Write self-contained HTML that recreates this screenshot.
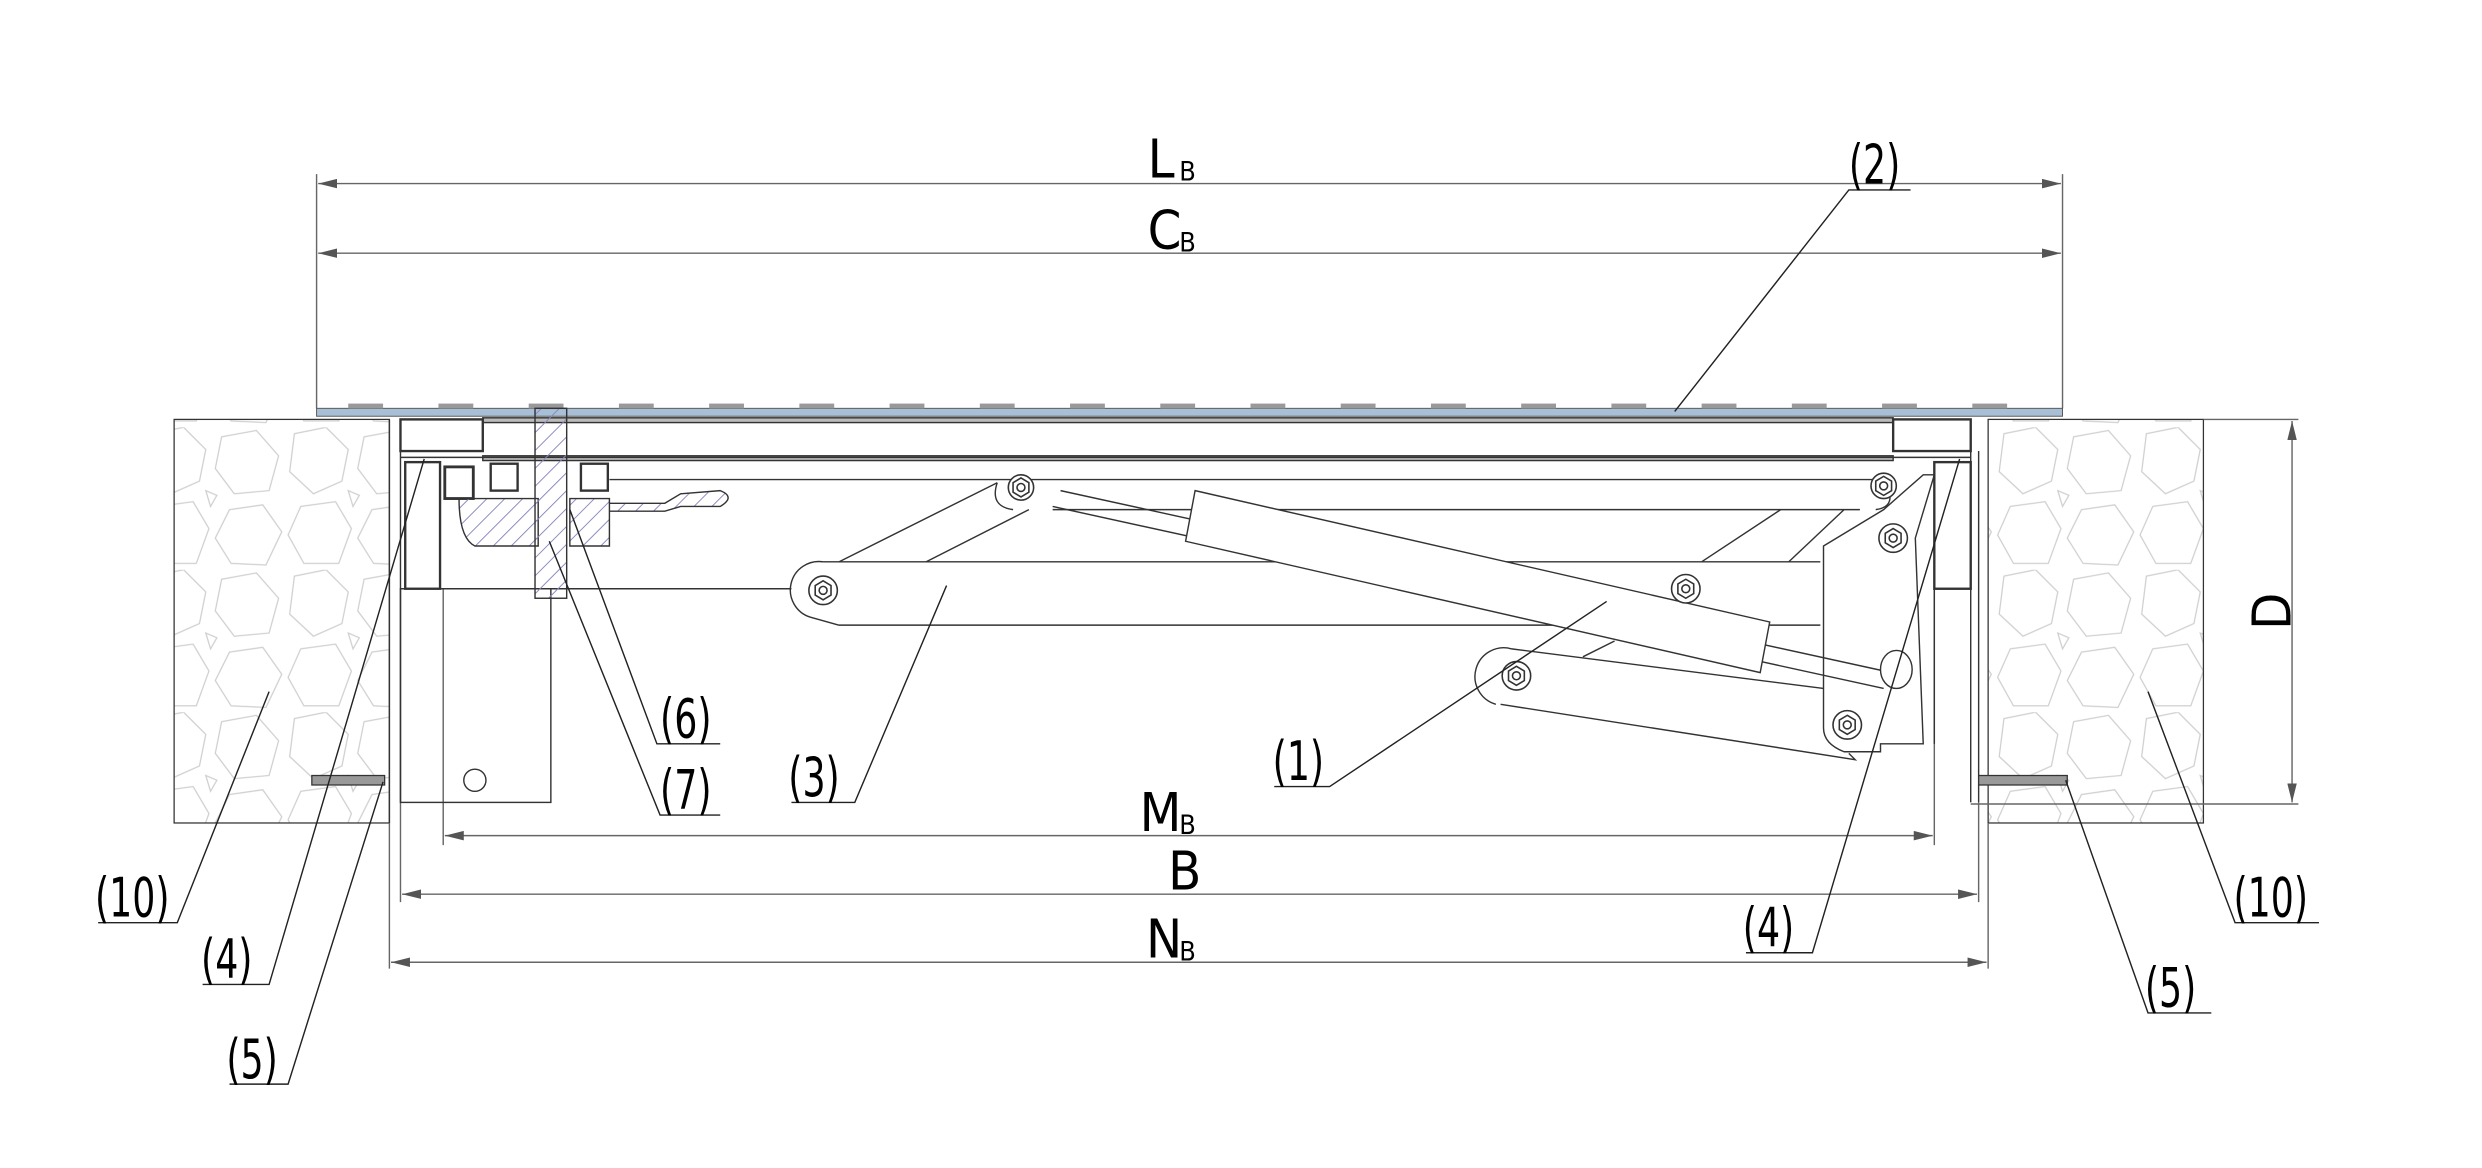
<!DOCTYPE html>
<html><head><meta charset="utf-8"><style>
html,body{margin:0;padding:0;background:#fff;}
svg{display:block;}
text{font-family:"DejaVu Sans Condensed","Liberation Sans Narrow","Liberation Sans",sans-serif;fill:#000;}
</style></head><body>
<svg width="2482" height="1168" viewBox="0 0 1568 738" preserveAspectRatio="none" xmlns="http://www.w3.org/2000/svg">
<defs>
<pattern id="stone" width="90" height="90" patternUnits="userSpaceOnUse">
<g fill="none" stroke="#cfcfcf" stroke-width="0.8">
<polygon points="6,4 26,0 40,14 36,34 18,42 3,28"/>
<polygon points="50,6 72,2 86,18 80,40 58,42 46,26"/>
<polygon points="10,50 32,47 42,64 34,86 12,86 2,68"/>
<polygon points="55,52 76,49 88,66 78,87 56,86 46,70"/>
<polygon points="40,40 47,43 43,50"/>
</g>
</pattern>
<pattern id="hatch" width="8" height="8" patternUnits="userSpaceOnUse" patternTransform="rotate(45)">
<line x1="0" y1="0" x2="0" y2="8" stroke="#8888c0" stroke-width="1.2"/>
</pattern>
<marker id="ar" markerWidth="12" markerHeight="6" refX="12" refY="3" orient="auto" markerUnits="userSpaceOnUse">
<polygon points="0,0 12,3 0,6" fill="#555"/>
</marker>
<marker id="al" markerWidth="12" markerHeight="6" refX="0" refY="3" orient="auto" markerUnits="userSpaceOnUse">
<polygon points="12,0 0,3 12,6" fill="#555"/>
</marker>
</defs>

<rect x="110" y="265" width="136" height="255" fill="url(#stone)" stroke="#333" stroke-width="0.8"/>
<rect x="1256" y="265" width="136" height="255" fill="url(#stone)" stroke="#333" stroke-width="0.8"/>

<g stroke="#666" stroke-width="0.9" fill="none">
<line x1="200" y1="110" x2="200" y2="258"/>
<line x1="1303" y1="110" x2="1303" y2="258"/>
<line x1="201" y1="116" x2="1302" y2="116" marker-start="url(#al)" marker-end="url(#ar)"/>
<line x1="201" y1="160" x2="1302" y2="160" marker-start="url(#al)" marker-end="url(#ar)"/>
<line x1="281" y1="528" x2="1221" y2="528" marker-start="url(#al)" marker-end="url(#ar)"/>
<line x1="254" y1="565" x2="1249" y2="565" marker-start="url(#al)" marker-end="url(#ar)"/>
<line x1="247" y1="608" x2="1255" y2="608" marker-start="url(#al)" marker-end="url(#ar)"/>
<line x1="280" y1="372" x2="280" y2="534"/>
<line x1="1222" y1="372" x2="1222" y2="534"/>
<line x1="253" y1="507" x2="253" y2="570"/>
<line x1="1250" y1="507" x2="1250" y2="570"/>
<line x1="246" y1="520" x2="246" y2="612"/>
<line x1="1256" y1="520" x2="1256" y2="612"/>
<line x1="1392" y1="265" x2="1452" y2="265"/>
<line x1="1245" y1="508" x2="1452" y2="508"/>
<line x1="1448" y1="266" x2="1448" y2="507" marker-start="url(#al)" marker-end="url(#ar)"/>
</g>

<rect x="200" y="258" width="1103" height="5" fill="#a9bfd6" stroke="#555" stroke-width="0.6"/>
<g fill="#999">
<rect x="220" y="255" width="22" height="3"/><rect x="277" y="255" width="22" height="3"/><rect x="334" y="255" width="22" height="3"/><rect x="391" y="255" width="22" height="3"/><rect x="448" y="255" width="22" height="3"/><rect x="505" y="255" width="22" height="3"/><rect x="562" y="255" width="22" height="3"/><rect x="619" y="255" width="22" height="3"/><rect x="676" y="255" width="22" height="3"/><rect x="733" y="255" width="22" height="3"/><rect x="790" y="255" width="22" height="3"/><rect x="847" y="255" width="22" height="3"/><rect x="904" y="255" width="22" height="3"/><rect x="961" y="255" width="22" height="3"/><rect x="1018" y="255" width="22" height="3"/><rect x="1075" y="255" width="22" height="3"/><rect x="1132" y="255" width="22" height="3"/><rect x="1189" y="255" width="22" height="3"/><rect x="1246" y="255" width="22" height="3"/>
</g>

<g stroke="#333" stroke-width="0.9" fill="none">
<rect x="305" y="264" width="891" height="3" fill="#bbb"/>
<rect x="305" y="288" width="891" height="3" fill="#bbb"/>
<rect x="253" y="265" width="52" height="20" stroke-width="1.5"/>
<rect x="1196" y="265" width="49" height="20" stroke-width="1.5"/>
<line x1="253" y1="289" x2="1245" y2="289"/>
<line x1="385" y1="303" x2="1190" y2="303"/>
<line x1="246" y1="265" x2="246" y2="520"/>
<line x1="253" y1="285" x2="253" y2="507"/>
<rect x="256" y="292" width="22" height="80" stroke-width="1.5"/>
<line x1="253" y1="372" x2="500" y2="372"/>
<rect x="253" y="372" width="95" height="135"/>
<circle cx="300" cy="493" r="7"/>
<rect x="281" y="295" width="18" height="20" stroke-width="1.8"/>
<rect x="310" y="293" width="17" height="17" stroke-width="1.5"/>
<rect x="367" y="293" width="17" height="17" stroke-width="1.5"/>
<path d="M290,315 L340,315 L340,345 L300,345 Q290,340 290,315Z M360,315 L385,315 L385,345 L360,345Z" fill="url(#hatch)"/>
<rect x="338" y="258" width="20" height="120" fill="url(#hatch)"/>
<path d="M385,318 L420,318 L430,312 L455,310 Q465,314 455,320 L430,320 L420,323 L385,323" fill="url(#hatch)"/>
<rect x="1222" y="292" width="23" height="80" stroke-width="1.5"/>
<line x1="1245" y1="285" x2="1245" y2="507"/>
<line x1="1250" y1="285" x2="1250" y2="507"/>
<line x1="1222" y1="372" x2="1222" y2="470"/>
<path d="M520,355 L1150,355 M530,395 L1150,395 M520,355 A18,18 0 0 0 512,390 L530,395"/>
<line x1="530" y1="355" x2="630" y2="305"/>
<line x1="585" y1="355" x2="650" y2="322"/>
<line x1="1075" y1="355" x2="1125" y2="322"/>
<line x1="1130" y1="355" x2="1165" y2="322"/>
<line x1="665" y1="322" x2="1175" y2="322"/>
<path d="M630,305 Q625,320 640,322"/>
<path d="M1190,303 Q1200,320 1185,322"/>
<path d="M1152,345 L1190,322 L1215,300 L1222,300 L1210,340 L1215,470 L1188,470 L1188,475 L1165,475 Q1152,470 1152,460 Z"/>
<line x1="670" y1="310" x2="1195" y2="425"/>
<line x1="665" y1="320" x2="1190" y2="435"/>
<polygon points="755,310 1118,393 1112,425 749,342" fill="#fff"/>
<ellipse cx="1198" cy="423" rx="10" ry="12" fill="#fff"/>
<path d="M955,410 L1152,435 M948,445 L1172,480 L1168,476 M955,410 A18,18 0 0 0 945,445"/>
<line x1="1000" y1="415" x2="1020" y2="405"/>
</g>

<g fill="#fff" stroke="#333" stroke-width="1">
<g transform="translate(520,373)"><circle r="9"/><polygon points="0,-6 5,-3 5,3 0,6 -5,3 -5,-3"/><circle r="2.5"/></g>
<g transform="translate(645,308)"><circle r="8"/><polygon points="0,-6 5,-3 5,3 0,6 -5,3 -5,-3"/><circle r="2.5"/></g>
<g transform="translate(1190,307)"><circle r="8"/><polygon points="0,-6 5,-3 5,3 0,6 -5,3 -5,-3"/><circle r="2.5"/></g>
<g transform="translate(1196,340)"><circle r="9"/><polygon points="0,-6 5,-3 5,3 0,6 -5,3 -5,-3"/><circle r="2.5"/></g>
<g transform="translate(1065,372)"><circle r="9"/><polygon points="0,-6 5,-3 5,3 0,6 -5,3 -5,-3"/><circle r="2.5"/></g>
<g transform="translate(958,427)"><circle r="9"/><polygon points="0,-6 5,-3 5,3 0,6 -5,3 -5,-3"/><circle r="2.5"/></g>
<g transform="translate(1167,458)"><circle r="9"/><polygon points="0,-6 5,-3 5,3 0,6 -5,3 -5,-3"/><circle r="2.5"/></g>
</g>

<rect x="197" y="490" width="46" height="6" fill="#999" stroke="#333" stroke-width="0.8"/>
<rect x="1250" y="490" width="56" height="6" fill="#999" stroke="#333" stroke-width="0.8"/>

<g stroke="#222" stroke-width="0.9" fill="none">
<path d="M1207,120 L1168,120 L1058,260"/>
<path d="M455,470 L415,470 L360,322"/>
<path d="M455,515 L417,515 L347,342"/>
<path d="M500,507 L540,507 L598,370"/>
<path d="M805,497 L840,497 L1015,380"/>
<path d="M62,583 L112,583 L170,437"/>
<path d="M128,622 L170,622 L268,290"/>
<path d="M145,685 L182,685 L242,494"/>
<path d="M1103,602 L1145,602 L1238,290"/>
<path d="M1465,583 L1412,583 L1357,437"/>
<path d="M1397,640 L1357,640 L1305,493"/>
</g>

<g font-size="30">
<text x="1168" y="116" transform="translate(1168,116) scale(0.85,1.15) translate(-1168,-116)">(2)</text>
<text x="417" y="466" transform="translate(417,466) scale(0.85,1.15) translate(-417,-466)">(6)</text>
<text x="417" y="511" transform="translate(417,511) scale(0.85,1.15) translate(-417,-511)">(7)</text>
<text x="498" y="503" transform="translate(498,503) scale(0.85,1.15) translate(-498,-503)">(3)</text>
<text x="804" y="493" transform="translate(804,493) scale(0.85,1.15) translate(-804,-493)">(1)</text>
<text x="60" y="579" transform="translate(60,579) scale(0.85,1.15) translate(-60,-579)">(10)</text>
<text x="127" y="618" transform="translate(127,618) scale(0.85,1.15) translate(-127,-618)">(4)</text>
<text x="143" y="681" transform="translate(143,681) scale(0.85,1.15) translate(-143,-681)">(5)</text>
<text x="1101" y="598" transform="translate(1101,598) scale(0.85,1.15) translate(-1101,-598)">(4)</text>
<text x="1411" y="579" transform="translate(1411,579) scale(0.85,1.15) translate(-1411,-579)">(10)</text>
<text x="1355" y="636" transform="translate(1355,636) scale(0.85,1.15) translate(-1355,-636)">(5)</text>
</g>
<g font-size="34">
<text x="725" y="112">L</text><text x="745" y="114" font-size="17" fill="#555">B</text>
<text x="725" y="157">C</text><text x="745" y="159" font-size="17" fill="#555">B</text>
<text x="720" y="525">M</text><text x="745" y="527" font-size="17" fill="#555">B</text>
<text x="738" y="562">B</text>
<text x="724" y="605">N</text><text x="745" y="607" font-size="17" fill="#555">B</text>
<text transform="translate(1447,398) rotate(-90)">D</text>
</g>
</svg>
</body></html>
